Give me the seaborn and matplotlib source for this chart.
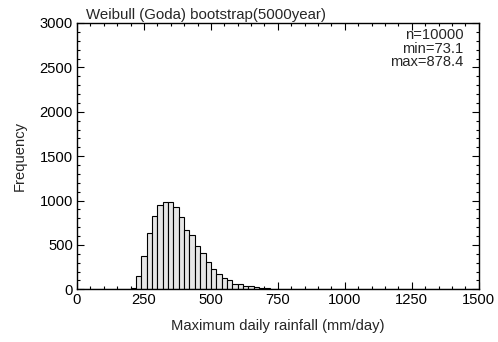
import numpy as np
import pandas as pd
import matplotlib
matplotlib.use("Agg")
import matplotlib.pyplot as plt
from matplotlib.ticker import MultipleLocator
import seaborn as sns

# Histogram of bootstrapped 5000-year maximum daily rainfall (20 mm/day bins)
bin_left = [60, 140, 160, 180, 200, 220, 240, 260, 280, 300, 320, 340, 360,
            380, 400, 420, 440, 460, 480, 500, 520, 540, 560, 580, 600, 620,
            640, 660, 680, 700, 720, 740, 760, 780, 800, 820, 860]
counts = [1, 1, 2, 4, 15, 150, 375, 631, 830, 949, 987, 985, 927,
          811, 671, 608, 492, 409, 304, 228, 168, 127, 101, 60, 57, 37,
          34, 23, 18, 11, 6, 4, 3, 2, 1, 1, 1]
bin_width = 20
stats_text = "n=10000\nmin=73.1\nmax=878.4"
title = "Weibull (Goda) bootstrap(5000year)"

sns.set_theme(style="ticks")
plt.rcParams["font.family"] = ["Liberation Sans", "DejaVu Sans"]

df = pd.DataFrame({"x": np.array(bin_left, dtype=float) + bin_width / 2,
                   "w": np.array(counts, dtype=float)})

fig = plt.figure(figsize=(4.98, 3.42), dpi=100)
ax = fig.add_axes([77 / 498, 1 - 289.3 / 342, (478.7 - 77) / 498, (289.3 - 23) / 342])

sns.histplot(data=df, x="x", weights="w", binwidth=bin_width, binrange=(0, 1500),
             ax=ax, color="#e6e6e6", edgecolor="black", linewidth=0.8, alpha=1)

ax.set_xlim(0, 1500)
ax.set_ylim(0, 3000)
ax.xaxis.set_major_locator(MultipleLocator(250))
ax.xaxis.set_minor_locator(MultipleLocator(50))
ax.yaxis.set_major_locator(MultipleLocator(500))
ax.yaxis.set_minor_locator(MultipleLocator(100))
ax.tick_params(which="both", direction="in", top=True, right=True,
               labelsize=10.6, colors="black", pad=3)
ax.tick_params(which="major", length=5, width=0.8)
ax.tick_params(which="minor", length=2.5, width=0.8)
for s in ax.spines.values():
    s.set_linewidth(1.0)
    s.set_color("black")

ax.set_xlabel("Maximum daily rainfall (mm/day)", fontsize=10.6, labelpad=8)
ax.set_ylabel("Frequency", fontsize=10.6, labelpad=9)
ax.text(0.022, 1.005, title, transform=ax.transAxes, ha="left", va="bottom",
        fontsize=10.8)
ax.text(0.962, 0.98, stats_text, transform=ax.transAxes, ha="right", va="top",
        fontsize=10.6, linespacing=0.95)

fig.savefig("out.png", dpi=100)
